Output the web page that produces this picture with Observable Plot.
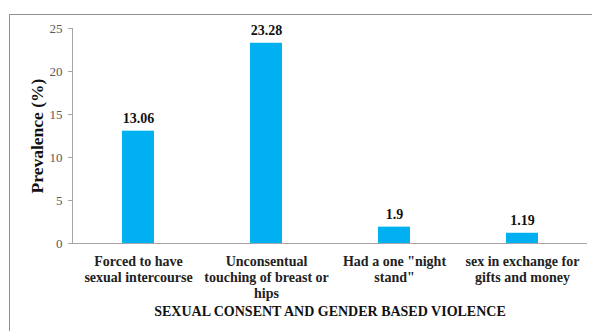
<!DOCTYPE html>
<html>
<head>
<meta charset="utf-8">
<script src="https://cdn.jsdelivr.net/npm/d3@7"></script>
<script src="https://cdn.jsdelivr.net/npm/@observablehq/plot@0.6"></script>
<style>
  html, body { margin: 0; padding: 0; background: #fff; overflow: hidden; }
  #wrap { position: relative; width: 592px; height: 331px; }
  #border { position: absolute; left: 9px; top: 14px; width: 620px; height: 400px; border: 1px solid #909090; box-sizing: border-box; pointer-events: none; }
  #chart { position: absolute; left: 0; top: 0; }
</style>
</head>
<body>
<div id="wrap"><div id="chart"></div><div id="border"></div></div>
<script>
const categories = ["Forced to have sexual intercourse", "Unconsentual touching of breast or hips", "Had a one \"night stand\"", "sex in exchange for gifts and money"];
const tickLabels = ["Forced to have\nsexual intercourse", "Unconsentual\ntouching of breast or\nhips", "Had a one \"night\nstand\"", "sex in exchange for\ngifts and money"];
const values = [13.06, 23.28, 1.9, 1.19];
const valueLabels = ["13.06", "23.28", "1.9", "1.19"];
const yTicks = [0, 5, 10, 15, 20, 25];
const yTitle = "Prevalence (%)";
const xTitle = "SEXUAL CONSENT AND GENDER BASED VIOLENCE";

const data = categories.map((c, i) => ({category: c, value: values[i], label: valueLabels[i]}));
const serif = "'Liberation Serif', 'Times New Roman', serif";

const chart = Plot.plot({
  width: 592,
  height: 331,
  marginLeft: 72,
  marginRight: 5,
  marginTop: 28,
  marginBottom: 88,
  style: {fontFamily: serif, background: "transparent"},
  x: {domain: categories, paddingInner: 0.75, paddingOuter: 0.375, axis: null},
  y: {domain: [0, 25], axis: null},
  marks: [
    Plot.barY(data, {x: "category", y: "value", fill: "#00B0F0"}),
    Plot.axisY({ticks: yTicks, tickSize: 4, tickPadding: 6, stroke: "#A6A6A6", color: "#595959", fontSize: 13, label: null}),
    Plot.frame({anchor: "left", stroke: "#A6A6A6"}),
    Plot.ruleY([0], {stroke: "#A6A6A6"}),
    Plot.axisX({tickSize: 0, tickPadding: 11, lineAnchor: "top", lineHeight: 1.15, fontSize: 14, fontWeight: "bold", color: "#222", label: null,
      tickFormat: d => tickLabels[categories.indexOf(d)]}),
    Plot.text(data, {x: "category", y: "value", text: "label", dy: -13, fontSize: 14, fontWeight: "bold", fill: "#111"}),
    Plot.text([yTitle], {frameAnchor: "left", textAnchor: "middle", lineAnchor: "middle", dx: -35, rotate: -90, fontSize: 17.5, fontWeight: "bold", fill: "#111"}),
    Plot.text([xTitle], {frameAnchor: "bottom", lineAnchor: "middle", dy: 68, fontSize: 14, fontWeight: "bold", fill: "#111"})
  ]
});
document.getElementById("chart").appendChild(chart);
</script>
</body>
</html>
